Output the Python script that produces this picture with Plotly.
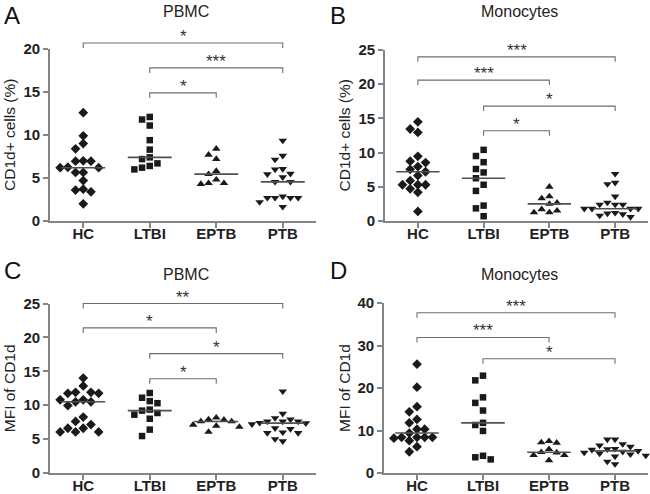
import plotly.graph_objects as go

# ---------------- data ----------------
groups = ["HC", "LTBI", "EPTB", "PTB"]

# Panel A: PBMC, CD1d+ cells (%)
a_hc = [12.6, 9.9, 9.0, 8.4, 7.0, 6.95, 6.95, 6.25, 6.2, 6.2, 5.65, 5.65, 4.7, 3.6, 3.4, 3.7, 2.0]
a_ltbi = [12.1, 11.8, 11.1, 9.4, 8.3, 7.4, 7.2, 6.7, 6.4, 6.2, 6.0]
a_eptb = [8.4, 7.7, 7.2, 5.8, 5.45, 4.8, 4.4, 4.3, 4.4]
a_ptb = [9.35, 7.6, 7.15, 6.05, 6.0, 5.5, 5.45, 5.1, 4.55, 4.55, 2.7, 2.7, 2.7, 2.7, 2.85, 2.2, 1.65]

# Panel B: Monocytes, CD1d+ cells (%)
b_hc = [14.5, 13.45, 12.95, 9.45, 8.55, 8.75, 7.95, 7.55, 7.2, 6.65, 5.9, 5.3, 5.3, 5.3, 4.7, 4.2, 1.4]
b_ltbi = [10.4, 9.5, 8.6, 7.6, 7.1, 6.25, 5.3, 4.4, 2.25, 1.85, 0.7]
b_eptb = [5.0, 3.6, 3.3, 2.65, 2.5, 1.7, 1.5, 1.25, 1.25]
b_ptb = [6.9, 5.6, 5.4, 3.6, 2.7, 2.4, 2.4, 2.4, 1.8, 1.8, 1.8, 1.8, 1.2, 1.1, 1.0, 0.8, 0.6]

# Panel C: PBMC, MFI of CD1d
c_hc = [14.0, 12.85, 11.9, 11.75, 11.75, 11.9, 10.8, 10.5, 10.5, 10.8, 9.95, 8.25, 7.6, 7.15, 6.6, 6.6, 6.05, 6.05, 6.05]
c_ltbi = [11.8, 11.1, 10.6, 10.3, 9.2, 9.35, 8.6, 8.85, 8.0, 6.4, 5.45]
c_eptb = [7.9, 7.6, 7.6, 7.85, 8.15, 6.95, 6.8, 7.1, 6.05]
c_ptb = [12.05, 8.75, 8.1, 7.9, 7.6, 7.6, 7.6, 7.4, 7.35, 7.2, 6.6, 6.5, 6.0, 5.9, 5.9, 5.0, 4.7]

# Panel D: Monocytes, MFI of CD1d
d_hc = [25.6, 20.2, 15.6, 14.4, 12.6, 11.8, 10.3, 10.3, 9.4, 8.4, 8.4, 8.4, 8.4, 8.2, 7.6, 6.2, 5.0]
d_ltbi = [22.9, 21.8, 17.8, 16.5, 14.7, 11.3, 11.8, 9.9, 4.05, 3.2, 3.7]
d_eptb = [7.5, 7.2, 7.1, 5.6, 4.9, 4.8, 4.2, 4.2, 3.0]
d_ptb = [7.9, 7.9, 6.8, 6.5, 6.2, 5.7, 5.6, 5.5, 5.2, 5.0, 4.8, 4.6, 4.4, 4.1, 3.9, 2.7, 2.1]

# significance brackets: (group from, group to, level, label)
a_brackets = [(0, 3, 20.7, "*"), (1, 3, 17.8, "***"), (1, 2, 14.9, "*")]
b_brackets = [(0, 3, 24.0, "***"), (0, 2, 20.6, "***"), (1, 3, 16.8, "*"), (1, 2, 13.2, "*")]
c_brackets = [(0, 3, 25.0, "**"), (0, 2, 21.4, "*"), (1, 3, 17.6, "*"), (1, 2, 13.9, "*")]
d_brackets = [(0, 3, 37.7, "***"), (0, 2, 31.9, "***"), (1, 3, 26.9, "*")]

letters = ["A", "B", "C", "D"]
titles = ["PBMC", "Monocytes", "PBMC", "Monocytes"]
ytitles = ["CD1d+ cells (%)", "CD1d+ cells (%)", "MFI of CD1d", "MFI of CD1d"]
ymaxes = [20, 25, 25, 40]
dticks = [5, 5, 5, 10]

# ---------------- layout geometry ----------------
W, H = 650, 494
FONT = "Arial, Liberation Sans, Helvetica, sans-serif"
xdomains = [(50 / W, 316 / W), (385 / W, 648 / W), (50 / W, 316 / W), (384 / W, 648 / W)]
ydomains = [(1 - 221 / H, 1 - 49 / H), (1 - 221 / H, 1 - 50 / H),
            (1 - 473 / H, 1 - 303.5 / H), (1 - 473 / H, 1 - 303 / H)]
symbols = ["diamond", "square", "triangle-up", "triangle-down"]
msizes = [7.5, 6.5, 7.5, 7.5]
MCOL = "#1a1a1a"
AXCOL = "#858585"


def median(v):
    s = sorted(v)
    n = len(s)
    return s[n // 2] if n % 2 else 0.5 * (s[n // 2 - 1] + s[n // 2])


def swarm(vals, ppu_y, h=7.5):
    order = sorted(range(len(vals)), key=lambda i: -vals[i])
    placed = []
    ks = [0] * len(vals)
    for i in order:
        y = vals[i] * ppu_y
        chosen = 0
        for k in [0, -1, 1, -2, 2, -3, 3, -4, 4, -5, 5]:
            if all(not (kk == k and abs(yy - y) < h) for yy, kk in placed):
                chosen = k
                break
        placed.append((y, chosen))
        ks[i] = chosen
    return ks


panel_data = [
    [a_hc, a_ltbi, a_eptb, a_ptb],
    [b_hc, b_ltbi, b_eptb, b_ptb],
    [c_hc, c_ltbi, c_eptb, c_ptb],
    [d_hc, d_ltbi, d_eptb, d_ptb],
]
panel_brackets = [a_brackets, b_brackets, c_brackets, d_brackets]

fig = go.Figure()
shapes = []
annotations = []
layout_axes = {}

for p in range(4):
    xs = "" if p == 0 else str(p + 1)
    xname, yname = "x" + xs, "y" + xs
    x0, x1 = xdomains[p]
    y0, y1 = ydomains[p]
    ymax = ymaxes[p]
    ppu_x = (x1 - x0) * W / 4.0
    ppu_y = (y1 - y0) * H / ymax
    step = 7.7 / ppu_x

    for g, vals in enumerate(panel_data[p]):
        ks = swarm(vals, ppu_y)
        fig.add_trace(go.Scatter(
            x=[g + k * step for k in ks], y=vals, mode="markers",
            marker=dict(symbol=symbols[g], size=msizes[g], color=MCOL, line=dict(width=0)),
            xaxis=xname, yaxis=yname, showlegend=False, cliponaxis=False, hoverinfo="y"))
        m = median(vals)
        fig.add_trace(go.Scatter(
            x=[g - 0.33, g + 0.33], y=[m, m], mode="lines",
            line=dict(color="#505050", width=1.6),
            xaxis=xname, yaxis=yname, showlegend=False, hoverinfo="skip"))

    drop = 5.0 / ((y1 - y0) * H)  # bracket leg in domain fraction
    for (ga, gb, lev, lab) in panel_brackets[p]:
        f = lev / ymax
        shapes.append(dict(
            type="path", xref=xname, yref=yname + " domain",
            path=f"M {ga},{f - drop} L {ga},{f} L {gb},{f} L {gb},{f - drop}",
            line=dict(color="#6e6e6e", width=1.1)))
        annotations.append(dict(
            x=(ga + gb) / 2.0, y=f, xref=xname, yref=yname + " domain",
            text=lab, showarrow=False, yanchor="bottom", yshift=-5,
            font=dict(family=FONT, size=17, color="#333333")))

    axis_common = dict(showline=True, linecolor=AXCOL, linewidth=1.6, ticks="outside",
                       ticklen=5, tickwidth=1.5, tickcolor=AXCOL, showgrid=False,
                       zeroline=False, fixedrange=True, automargin=False,
                       tickfont=dict(family=FONT, size=15, color="#222222", weight="bold"))
    layout_axes["xaxis" + xs] = dict(domain=[x0, x1], range=[-0.5, 3.5], anchor=yname,
                                     tickvals=[0, 1, 2, 3], ticktext=groups,
                                     ticklabelstandoff=-7, **axis_common)
    layout_axes["yaxis" + xs] = dict(domain=[y0, y1], range=[0, ymax], anchor=xname,
                                     tickvals=list(range(0, ymax + 1, dticks[p])), **axis_common)

    # panel title
    annotations.append(dict(x=(x0 + x1) / 2 + 3 / W, y=1 - (11 if p < 2 else 274) / H, xref="paper", yref="paper",
                            text=titles[p], showarrow=False, xanchor="center", yanchor="middle",
                            font=dict(family=FONT, size=16, color="#222222")))
    # panel letter
    lx = 2 if p % 2 == 0 else 328
    ly = 15 if p < 2 else 270
    annotations.append(dict(x=lx / W, y=1 - ly / H, xref="paper", yref="paper", text=letters[p],
                            showarrow=False, xanchor="left", yanchor="middle",
                            font=dict(family=FONT, size=24, color="#111111")))
    # y-axis title
    tx = 9 if p % 2 == 0 else 344
    annotations.append(dict(x=tx / W, y=(y0 + y1) / 2, xref="paper", yref="paper", text=ytitles[p],
                            showarrow=False, textangle=-90, xanchor="center", yanchor="middle",
                            font=dict(family=FONT, size=15.5, color="#222222")))

fig.update_layout(width=W, height=H, margin=dict(l=0, r=0, t=0, b=0, pad=0, autoexpand=False),
                  paper_bgcolor="white", plot_bgcolor="white",
                  shapes=shapes, annotations=annotations, **layout_axes)
fig.write_html("out.html", config={"displayModeBar": False},
               post_script="document.body.style.margin='0px';document.body.style.padding='0px';")
